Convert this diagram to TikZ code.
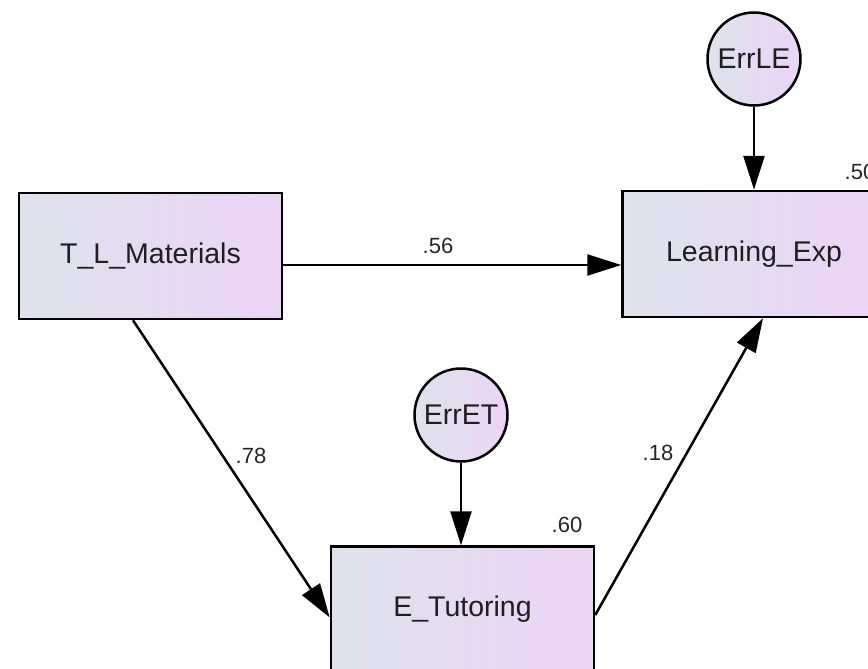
\documentclass[tikz,border=0pt]{standalone}
\usepackage{fontspec}
\setmainfont{Liberation Sans}
\usetikzlibrary{arrows.meta}
\definecolor{fillleft}{RGB}{222,227,236}
\definecolor{fillright}{RGB}{236,212,245}

\begin{document}
\begin{tikzpicture}[x=1pt,y=-1pt]
\tikzset{font=\fontsize{28.5}{31}\selectfont}
\tikzset{observed/.style={draw, line width=2.5pt, left color=fillleft, right color=fillright, minimum width=263pt, minimum height=126pt, inner sep=0pt, text=black!88}}
\tikzset{errterm/.style={draw, circle, line width=2.5pt, left color=fillleft, right color=fillright, minimum size=93pt, inner sep=0pt, text=black!88}}
\tikzset{regpath/.style={draw, line width=2.5pt, -{Triangle[length=34pt,width=21pt]}}}
\tikzset{coef/.style={font=\fontsize{22}{24}\selectfont, text=black!85}}
\useasboundingbox (0,0) rectangle (868,669);

\node[observed] (tlm) at (150.5,256) {T\_L\_Materials};
\node[observed] (lexp) at (754,254) {Learning\_Exp};
\node[observed] (etut) at (462.5,609.5) {E\_Tutoring};
\node[errterm] (errle) at (754,59) {ErrLE};
\node[errterm] (erret) at (461,415) {ErrET};

\draw[regpath] ([yshift=-9pt]tlm.east) -- ([yshift=-11pt]lexp.west);
\draw[regpath] ([xshift=-17.5pt]tlm.south) -- ([yshift=-8pt]etut.west);
\draw[regpath] ([yshift=-5.5pt]etut.east) -- ([xshift=9pt]lexp.south);
\draw[regpath] (errle.south) -- (lexp.north);
\draw[regpath] (erret.south) -- (erret.south |- etut.north);

\node[coef] (c56) at (438,246) {.56};
\node[coef] (c78) at (251,456) {.78};
\node[coef] (c18) at (658,453) {.18};
\node[coef] (c60) at (567,525) {.60};
\node[coef] (c50) at (860,172) {.50};
\end{tikzpicture}
\end{document}
